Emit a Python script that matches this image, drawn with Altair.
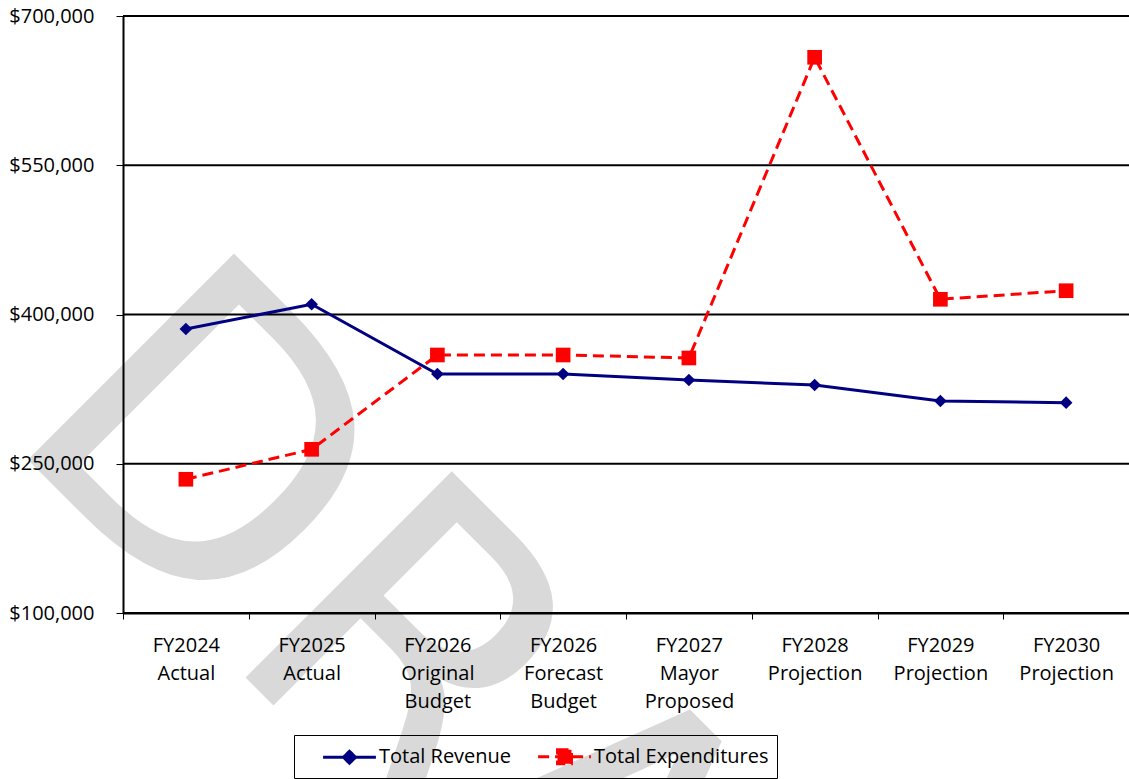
import altair as alt
import pandas as pd

categories = [
    "FY2024 Actual", "FY2025 Actual", "FY2026 Original Budget",
    "FY2026 Forecast Budget", "FY2027 Mayor Proposed", "FY2028 Projection",
    "FY2029 Projection", "FY2030 Projection",
]
revenue = [385400, 410300, 340200, 340200, 334200, 329100, 313100, 311400]
expenditures = [234400, 264500, 359300, 359300, 356300, 658500, 415300, 423900]
series_names = ["Total Revenue", "Total Expenditures"]
series_colors = ["#000080", "#ff0000"]
y_ticks = [100000, 250000, 400000, 550000, 700000]
watermark_text = ["DRAFT"]

rows = []
for c, r, e in zip(categories, revenue, expenditures):
    rows.append({"category": c, "series": series_names[0], "value": r})
    rows.append({"category": c, "series": series_names[1], "value": e})
df = pd.DataFrame(rows)

FONT = "Open Sans"
y_scale = alt.Scale(domain=[100000, 700000], nice=False, zero=False)

x_enc = alt.X(
    "category:N", sort=categories,
    scale=alt.Scale(type="band", paddingInner=0, paddingOuter=0),
    axis=alt.Axis(
        title=None, labelAngle=0, labelExpr="split(datum.label, ' ')",
        tickBand="extent", tickSize=6, tickColor="black", tickWidth=1,
        domainColor="black", domainWidth=2, grid=False, zindex=1,
        labelFont=FONT, labelFontSize=20, labelColor="black",
        labelLineHeight=28, labelPadding=16, labelLimit=300,
    ),
)
y_enc = alt.Y(
    "value:Q", scale=y_scale,
    axis=alt.Axis(
        title=None, values=y_ticks, format="$,.0f",
        tickSize=7, tickColor="black", tickWidth=1,
        domainColor="black", domainWidth=2, grid=False, zindex=1,
        labelFont=FONT, labelFontSize=20, labelColor="black", labelPadding=22,
    ),
)

base = alt.Chart(df)

watermark = alt.Chart(pd.DataFrame({"w": watermark_text})).mark_text(
    font="DejaVu Sans", fontSize=400, angle=45, align="left",
    baseline="alphabetic", color="#d9d9d9",
).encode(text="w:N", x=alt.value(-123), y=alt.value(416))

grid = alt.Chart(pd.DataFrame({"v": y_ticks})).mark_rule(
    color="black", strokeWidth=2
).encode(y=alt.Y("v:Q", scale=y_scale))

rev = base.transform_filter(alt.datum.series == series_names[0])
exp_ = base.transform_filter(alt.datum.series == series_names[1])

rev_line = rev.mark_line(color=series_colors[0], strokeWidth=3).encode(x=x_enc, y=y_enc)
rev_pts = rev.mark_point(shape="diamond", filled=True, size=160, opacity=1,
                         color=series_colors[0]).encode(x=x_enc, y=y_enc)
exp_line = exp_.mark_line(color=series_colors[1], strokeWidth=3,
                          strokeDash=[11, 6]).encode(x=x_enc, y=y_enc)
exp_pts = exp_.mark_point(shape="square", filled=True, size=215, opacity=1,
                          color=series_colors[1]).encode(x=x_enc, y=y_enc)

legend = alt.Legend(
    title=None, orient="none", legendX=171, legendY=719, direction="horizontal",
    strokeColor="black", padding=8,
    symbolSize=576, symbolOffset=34, symbolStrokeWidth=3, symbolOpacity=1,
    labelOffset=16, labelFont=FONT, labelFontSize=20, labelColor="black",
    labelLimit=400, columnPadding=5,
)
path_rev = "M-2.2,0H2.2M0,-0.5L0.5,0L0,0.5L-0.5,0Z"
path_exp = "M-2.2,0H2.2M-0.58,-0.58H0.58V0.58H-0.58Z"

legend_layer = base.mark_point(filled=True, size=0, strokeWidth=3).encode(
    x=x_enc, y=y_enc,
    color=alt.Color("series:N", scale=alt.Scale(domain=series_names, range=series_colors), legend=legend),
    stroke=alt.Stroke("series:N", scale=alt.Scale(domain=series_names, range=series_colors), legend=legend),
    shape=alt.Shape("series:N", scale=alt.Scale(domain=series_names, range=[path_rev, path_exp]), legend=legend),
    strokeDash=alt.StrokeDash("series:N", scale=alt.Scale(domain=series_names, range=[[1, 0], [11, 6]]), legend=legend),
)

chart = alt.layer(
    watermark, grid, rev_line, exp_line, rev_pts, exp_pts, legend_layer
).properties(
    width=1006, height=597,
    autosize=alt.AutoSizeParams(type="none"),
    padding={"left": 123, "top": 16, "right": 0, "bottom": 166},
    background="white",
).configure_view(strokeWidth=0)

chart.save("out.html", embed_options={"renderer": "svg", "actions": False})
